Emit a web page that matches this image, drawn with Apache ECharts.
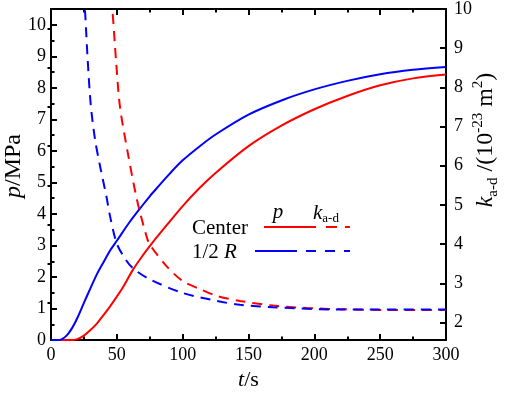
<!DOCTYPE html>
<html>
<head>
<meta charset="utf-8">
<script src="https://cdn.jsdelivr.net/npm/echarts@6/dist/echarts.min.js"></script>
<style>
html,body{margin:0;padding:0;background:#fff;}
#c{width:505px;height:396px;}
</style>
</head>
<body>
<div id="c"></div>
<script>
// ---- data ----
var tBlueP = [0,5,8,12,16,20,25,30,35,40,45,50,60,70,75,80,90,100,113,125,150,175,200,225,250,275,300];
var pBlue  = [0,0,0.02,0.15,0.38,0.7,1.18,1.65,2.1,2.48,2.85,3.15,3.76,4.3,4.56,4.8,5.27,5.7,6.15,6.52,7.15,7.6,7.95,8.22,8.43,8.57,8.66];

var tRedP = [0,15,20,25,30,35,40,45,50,55,62.5,70,76.5,90,100,113,125,150,175,200,225,250,275,300];
var pRed  = [0,0,0.03,0.14,0.32,0.53,0.8,1.08,1.38,1.7,2.25,2.7,3.06,3.75,4.25,4.83,5.3,6.15,6.8,7.32,7.74,8.08,8.3,8.42];

var tBlueK = [24.7,25.8,27.7,30.2,33.4,37.2,42.3,44.8,49.9,56.2,62.3,75.2,100.3,126,143.5,168.6,219.5,260,300];
var kBlue  = [10.4,9.98,8.8,7.55,6.68,6.0,5.18,4.72,4.02,3.63,3.38,3.1,2.75,2.55,2.45,2.39,2.33,2.33,2.33];

var tRedK = [45.2,46.6,49.4,52.4,58.7,65.5,72.7,75.2,87.9,100.3,113.2,125.8,143.5,168.6,194.2,219.5,257.5,300];
var kRed  = [10.3,9.98,8.68,7.5,6.26,5.1,4.18,3.98,3.43,3.05,2.85,2.68,2.55,2.43,2.37,2.34,2.32,2.32];

// tick values
var pTicks = [0,1,2,3,4,5,6,7,8,9,10];
var pMinor = [0.5,1.5,2.5,3.5,4.5,5.5,6.5,7.5,8.5,9.5];
var kTicks = [2,3,4,5,6,7,8,9,10];
var kMinor = [2.5,3.5,4.5,5.5,6.5,7.5,8.5,9.5];

var T_MIN = 0, T_MAX = 300, P_MIN = 0, P_MAX = 10.5, K_MIN = 1.55, K_MAX = 10;

function pairs(xs, ys){ return xs.map(function(x,i){return [x, ys[i]];}); }

var FONT = "'Liberation Serif','Times New Roman',serif";
var RED = '#ff0000', BLUE = '#0000ff';

var chart = echarts.init(document.getElementById('c'), null, {renderer:'canvas'});

function axLine(){ return {show:true, onZero:false, lineStyle:{color:'#000', width:2}}; }
function labelStyle(extra){ return Object.assign({color:'#000', fontFamily:FONT, fontSize:18}, extra||{}); }
function tick(len, inside, extra){ return Object.assign({show:true, inside:inside, length:len, lineStyle:{color:'#000', width:2}}, extra||{}); }

var option = {
  animation:false,
  backgroundColor:'#fff',
  grid:{left:51, right:59, top:8, bottom:51},
  xAxis:[
    {type:'value', min:T_MIN, max:T_MAX, interval:50, position:'bottom',
     axisLine:axLine(), axisTick:tick(6, true),
     minorTick:{show:true, splitNumber:2, length:3.5, lineStyle:{color:'#000', width:2}},
     axisLabel:labelStyle({margin:6}),
     splitLine:{show:false},
     name:'{i|t}/s', nameLocation:'middle', nameGap:26,
     nameTextStyle:{color:'#000', fontFamily:FONT, fontSize:22, rich:{i:{fontStyle:'italic', fontFamily:FONT, fontSize:22}}}
    },
    {type:'value', min:T_MIN, max:T_MAX, interval:50, position:'top',
     axisLine:axLine(), axisTick:tick(6, true),
     minorTick:{show:true, splitNumber:2, length:3.5, lineStyle:{color:'#000', width:2}},
     axisLabel:{show:false}, splitLine:{show:false}
    }
  ],
  yAxis:[
    {type:'value', min:P_MIN, max:P_MAX, position:'left',
     axisLine:axLine(), axisTick:tick(6, true, {customValues:pTicks}),
     axisLabel:labelStyle({margin:5, customValues:pTicks}),
     splitLine:{show:false}
    },
    {type:'value', min:K_MIN, max:K_MAX, position:'right',
     axisLine:axLine(), axisTick:tick(6, true, {customValues:kTicks}),
     axisLabel:labelStyle({margin:8, customValues:kTicks}),
     splitLine:{show:false}
    },
    {type:'value', min:P_MIN, max:P_MAX, position:'left',
     axisLine:{show:false}, axisTick:tick(3.5, true, {customValues:pMinor}),
     axisLabel:{show:false}, splitLine:{show:false}
    },
    {type:'value', min:K_MIN, max:K_MAX, position:'right',
     axisLine:{show:false}, axisTick:tick(3.5, true, {customValues:kMinor}),
     axisLabel:{show:false}, splitLine:{show:false}
    }
  ],
  series:[
    {name:'p Center', type:'line', xAxisIndex:0, yAxisIndex:0, data:pairs(tRedP,pRed),
     showSymbol:false, smooth:0.3, lineStyle:{color:RED, width:2}, clip:true},
    {name:'p 1/2R', type:'line', xAxisIndex:0, yAxisIndex:0, data:pairs(tBlueP,pBlue),
     showSymbol:false, smooth:0.3, lineStyle:{color:BLUE, width:2}, clip:true},
    {name:'k Center', type:'line', xAxisIndex:0, yAxisIndex:1, data:pairs(tRedK,kRed),
     showSymbol:false, smooth:0.3, lineStyle:{color:RED, width:2, type:[10,7]}, clip:true},
    {name:'k 1/2R', type:'line', xAxisIndex:0, yAxisIndex:1, data:pairs(tBlueK,kBlue),
     showSymbol:false, smooth:0.3, lineStyle:{color:BLUE, width:2, type:[10,7]}, clip:true}
  ],
  graphic:[
    {type:'text', x:14, y:166, rotation:Math.PI/2,
     style:{text:'{i|p}/MPa', fill:'#000', font:'24px '+FONT, align:'center', verticalAlign:'middle',
            rich:{i:{fontStyle:'italic', fontFamily:FONT, fontSize:24}}}},
    {type:'text', x:486, y:140, rotation:Math.PI/2,
     style:{text:'{i|k}{sub|a-d} /(10{sup|-23} m{sup|2})', fill:'#000', font:'24px '+FONT, align:'center', verticalAlign:'middle',
            rich:{
              i:{fontStyle:'italic', fontFamily:FONT, fontSize:24, lineHeight:30},
              sub:{fontFamily:FONT, fontSize:15, verticalAlign:'bottom', lineHeight:30},
              sup:{fontFamily:FONT, fontSize:15, verticalAlign:'top', lineHeight:30}
            }}},
    {type:'text', x:192, y:228, style:{text:'Center', fill:'#000', font:'21px '+FONT, align:'left', verticalAlign:'middle'}},
    {type:'text', x:192, y:252, style:{text:'1/2 {i|R}', fill:'#000', font:'21px '+FONT, align:'left', verticalAlign:'middle',
        rich:{i:{fontStyle:'italic', fontFamily:FONT, fontSize:21}}}},
    {type:'text', x:278, y:212, style:{text:'p', fill:'#000', font:'italic 21px '+FONT, align:'center', verticalAlign:'middle'}},
    {type:'text', x:313, y:213, style:{text:'{i|k}{sub|a-d}', fill:'#000', font:'21px '+FONT, align:'left', verticalAlign:'middle',
        rich:{i:{fontStyle:'italic', fontFamily:FONT, fontSize:21, lineHeight:24},
              sub:{fontFamily:FONT, fontSize:13, verticalAlign:'bottom', lineHeight:24}}}},
    {type:'line', shape:{x1:264, y1:227, x2:316, y2:227}, style:{stroke:RED, lineWidth:2}},
    {type:'line', shape:{x1:326, y1:227, x2:350, y2:227}, style:{stroke:RED, lineWidth:2, lineDash:[11,8]}},
    {type:'line', shape:{x1:255, y1:251, x2:297, y2:251}, style:{stroke:BLUE, lineWidth:2}},
    {type:'line', shape:{x1:306, y1:251, x2:350, y2:251}, style:{stroke:BLUE, lineWidth:2, lineDash:[10,9]}}
  ]
};
chart.setOption(option);
</script>
</body>
</html>
